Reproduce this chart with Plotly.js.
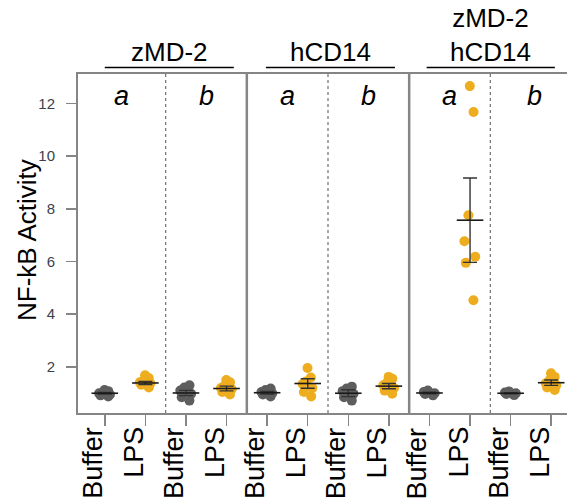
<!DOCTYPE html>
<html>
<head>
<meta charset="utf-8">
<script src="https://cdn.plot.ly/plotly-3.0.1.min.js"></script>
<style>
  html, body { margin: 0; padding: 0; background: #ffffff; overflow: hidden; }
  #chart { width: 600px; height: 501px; }
</style>
</head>
<body>
<div id="chart"></div>
<script>
// Treatment of each column, left to right
const treatments = ["Buffer", "LPS", "Buffer", "LPS", "Buffer", "LPS",
                    "Buffer", "LPS", "Buffer", "LPS", "Buffer", "LPS"];
// Construct groups and the a / b replicate letters
const groupNames = ["zMD-2", "hCD14", "zMD-2<br>hCD14"];
const replicateLetters = ["a", "b", "a", "b", "a", "b"];

// NF-kB activity of the individual wells, one list per column
const buffer_zMD2_a = [0.88, 0.95, 1.00, 1.03, 1.08, 0.92, 1.12];
const lps_zMD2_a    = [1.22, 1.32, 1.38, 1.42, 1.48, 1.58, 1.68];
const buffer_zMD2_b = [0.72, 0.85, 0.98, 1.10, 1.22, 1.30];
const lps_zMD2_b    = [0.95, 1.05, 1.15, 1.20, 1.30, 1.42, 1.50];
const buffer_hCD14_a = [0.88, 0.95, 1.00, 1.05, 1.12, 1.18];
const lps_hCD14_a    = [0.88, 1.05, 1.20, 1.35, 1.45, 1.60, 1.96];
const buffer_hCD14_b = [0.72, 0.85, 0.98, 1.08, 1.18, 1.25];
const lps_hCD14_b    = [0.98, 1.10, 1.20, 1.30, 1.42, 1.55, 1.62];
const buffer_both_a = [0.92, 0.97, 1.00, 1.05, 1.10];
const lps_both_a    = [12.66, 11.68, 7.76, 6.77, 6.18, 5.95, 4.53];
const buffer_both_b = [0.93, 0.97, 1.00, 1.03, 1.07];
const lps_both_b    = [1.12, 1.22, 1.30, 1.38, 1.50, 1.62, 1.76];

// Mean and standard error of each column
const means = [1.00, 1.39, 1.01, 1.18, 1.02, 1.37, 1.00, 1.27, 1.01, 7.57, 1.00, 1.40];
const sems  = [0.03, 0.06, 0.10, 0.09, 0.05, 0.18, 0.13, 0.10, 0.03, 1.60, 0.02, 0.10];

const yTicks = [2, 4, 6, 8, 10, 12];

const columns = [buffer_zMD2_a, lps_zMD2_a, buffer_zMD2_b, lps_zMD2_b,
                 buffer_hCD14_a, lps_hCD14_a, buffer_hCD14_b, lps_hCD14_b,
                 buffer_both_a, lps_both_a, buffer_both_b, lps_both_b];

const GREY = "#5e5e5e";
const GOLD = "#EEAD1F";
const FRAME = "#858585";
const FONT = "Liberation Sans, Arial, sans-serif";

// plot-area geometry in pixels (used to place text outside the axes)
const M = { l: 78, r: 22, t: 74, b: 88 };
const H = 501;
const plotH = H - M.t - M.b;
const plotBottom = H - M.b;
const pyToPaper = p => (plotBottom - p) / plotH;
const pxToPaper = p => (p - M.l) / 500;

const positions = treatments.map((_, i) => i + 1);

// individual wells, spread sideways by the box trace's own jitter
const traces = columns.map((vals, i) => ({
  type: "box",
  x: vals.map(() => positions[i]),
  y: vals,
  boxpoints: "all",
  jitter: 0.55,
  pointpos: 0,
  width: 0.6,
  fillcolor: "rgba(0,0,0,0)",
  line: { width: 0, color: "rgba(0,0,0,0)" },
  whiskerwidth: 0,
  marker: { color: treatments[i] === "LPS" ? GOLD : GREY, size: 10, opacity: 1 },
  hoverinfo: "y",
  showlegend: false
}));

// mean line with standard-error bars
traces.push({
  type: "scatter",
  mode: "markers",
  x: positions,
  y: means,
  marker: { symbol: "line-ew-open", size: 19, color: "#1a1a1a",
            line: { width: 1.6, color: "#1a1a1a" } },
  error_y: { type: "data", array: sems, visible: true, color: "#333333", thickness: 1.4, width: 7 },
  hoverinfo: "y",
  showlegend: false
});

const shapes = [];
// solid separators between constructs
[4.5, 8.5].forEach(x => shapes.push({
  type: "line", xref: "x", yref: "paper", x0: x, x1: x, y0: 0, y1: 1,
  line: { color: FRAME, width: 2.5 }
}));
// dotted separators between replicates
[2.5, 6.5, 10.5].forEach(x => shapes.push({
  type: "line", xref: "x", yref: "paper", x0: x, x1: x, y0: 0, y1: 1,
  line: { color: "#7a7a7a", width: 1.3, dash: "dot" }
}));
// underlines below the construct names
[[1.0, 4.18], [4.97, 8.15], [8.93, 12.09]].forEach(([a, b]) => shapes.push({
  type: "line", xref: "x", yref: "paper", x0: a, x1: b,
  y0: pyToPaper(67.5), y1: pyToPaper(67.5),
  line: { color: "#000000", width: 1.6 }
}));

const annotations = [];
// construct names
[2.59, 6.56, 10.51].forEach((x, i) => annotations.push({
  xref: "x", yref: "paper", x: x, y: pyToPaper(69),
  xanchor: "center", yanchor: "bottom", showarrow: false,
  text: groupNames[i], font: { family: FONT, size: 26, color: "#000000" }
}));
// replicate letters
[1.42, 3.5, 5.5, 7.5, 9.5, 11.58].forEach((x, i) => annotations.push({
  xref: "x", yref: "paper", x: x, y: pyToPaper(96),
  xanchor: "center", yanchor: "middle", showarrow: false,
  text: "<i>" + replicateLetters[i] + "</i>",
  font: { family: FONT, size: 27, color: "#000000" }
}));
// column labels, rotated
positions.forEach((x, i) => annotations.push({
  xref: "x", yref: "paper", x: x, y: pyToPaper(425), xshift: -12,
  xanchor: "center", yanchor: "top", textangle: -90, showarrow: false,
  text: treatments[i], font: { family: FONT, size: 27, color: "#000000" }
}));
// y-axis title
annotations.push({
  xref: "paper", yref: "paper", x: pxToPaper(27), y: pyToPaper(240),
  xanchor: "center", yanchor: "middle", textangle: -90, showarrow: false,
  text: "NF-kB Activity", font: { family: FONT, size: 26, color: "#000000" }
});

const layout = {
  width: 600,
  height: H,
  margin: M,
  paper_bgcolor: "#ffffff",
  plot_bgcolor: "#ffffff",
  boxmode: "overlay",
  showlegend: false,
  font: { family: FONT },
  xaxis: {
    range: [0.34, 12.66],
    tickmode: "array",
    tickvals: positions,
    showticklabels: false,
    ticks: "outside",
    ticklen: 11,
    tickwidth: 1.5,
    tickcolor: FRAME,
    showline: true,
    linecolor: FRAME,
    linewidth: 2,
    mirror: true,
    showgrid: false,
    zeroline: false,
    fixedrange: true
  },
  yaxis: {
    range: [0.25, 13.12],
    tickmode: "array",
    tickvals: yTicks,
    ticktext: yTicks.map(String),
    ticks: "outside",
    ticklen: 10,
    tickwidth: 1.5,
    tickcolor: FRAME,
    ticklabelstandoff: 8,
    tickfont: { family: FONT, size: 15, color: "#3a3f4c" },
    showline: true,
    linecolor: FRAME,
    linewidth: 2,
    mirror: true,
    showgrid: false,
    zeroline: false,
    fixedrange: true
  },
  shapes: shapes,
  annotations: annotations
};

Plotly.newPlot("chart", traces, layout, { displayModeBar: false, staticPlot: true });
</script>
</body>
</html>
